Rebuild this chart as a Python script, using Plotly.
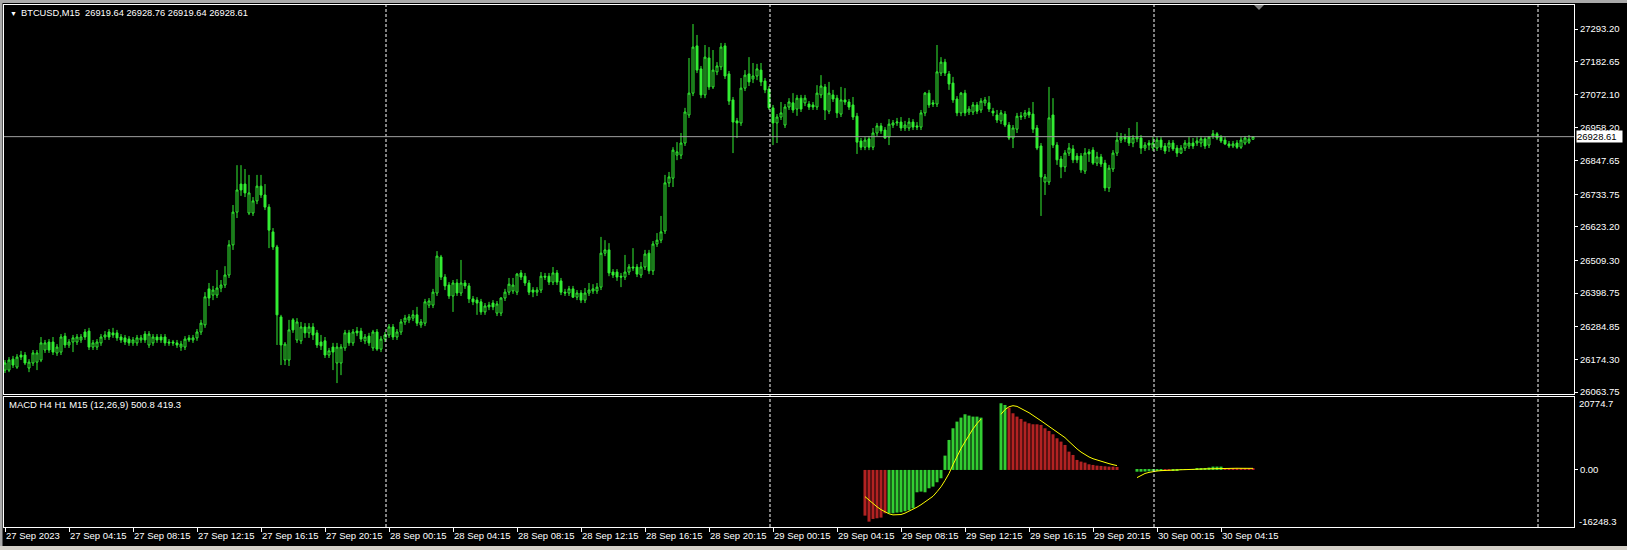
import plotly.graph_objects as go

# ---------------------------------------------------------------
# BTCUSD M15 with MACD sub-window (MT4 style, green on black)
# ---------------------------------------------------------------

symbol_header = "BTCUSD,M15\u00a0\u00a026919.64 26928.76 26919.64 26928.61"
macd_header = "MACD H4 H1 M15 (12,26,9) 500.8 419.3"

time_labels = [
    "27 Sep 2023", "27 Sep 04:15", "27 Sep 08:15", "27 Sep 12:15", "27 Sep 16:15",
    "27 Sep 20:15", "28 Sep 00:15", "28 Sep 04:15", "28 Sep 08:15", "28 Sep 12:15",
    "28 Sep 16:15", "28 Sep 20:15", "29 Sep 00:15", "29 Sep 04:15", "29 Sep 08:15",
    "29 Sep 12:15", "29 Sep 16:15", "29 Sep 20:15", "30 Sep 00:15", "30 Sep 04:15",
]

price_ticks = [27293.20, 27182.65, 27072.10, 26958.20, 26847.65, 26733.75,
               26623.20, 26509.30, 26398.75, 26284.85, 26174.30, 26063.75]
macd_max = 20774.7
macd_min = -16248.3

opens = [
    26138, 26138, 26175, 26148, 26189, 26189, 26145, 26162, 26165, 26172,
    26206, 26233, 26233, 26196, 26199, 26253, 26223, 26233, 26233, 26240,
    26267, 26270, 26216, 26216, 26230, 26250, 26267, 26264, 26264, 26250,
    26247, 26243, 26230, 26230, 26240, 26260, 26223, 26230, 26250, 26250,
    26250, 26233, 26233, 26230, 26216, 26216, 26247, 26240, 26247, 26267,
    26291, 26413, 26392, 26392, 26416, 26426, 26460, 26562, 26673, 26768,
    26768, 26670, 26670, 26711, 26761, 26731, 26690, 26606, 26555, 26318,
    26172, 26172, 26308, 26240, 26237, 26284, 26264, 26284, 26264, 26233,
    26237, 26189, 26216, 26162, 26162, 26213, 26264, 26230, 26270, 26270,
    26237, 26253, 26213, 26267, 26209, 26243, 26257, 26284, 26250, 26267,
    26301, 26308, 26314, 26325, 26291, 26297, 26358, 26358, 26399, 26521,
    26453, 26426, 26389, 26433, 26399, 26433, 26423, 26379, 26375, 26369,
    26335, 26352, 26365, 26331, 26331, 26382, 26402, 26406, 26402, 26467,
    26456, 26433, 26409, 26402, 26409, 26456, 26456, 26436, 26467, 26440,
    26402, 26399, 26413, 26385, 26399, 26375, 26399, 26406, 26406, 26419,
    26534, 26545, 26470, 26470, 26456, 26453, 26470, 26487, 26487, 26460,
    26487, 26534, 26474, 26565, 26578, 26609, 26772, 26788, 26866, 26866,
    26907, 27002, 27076, 27236, 27158, 27070, 27195, 27097, 27148, 27165,
    27236, 27141, 27053, 26982, 26975, 27093, 27141, 27124, 27134, 27154,
    27117, 27090, 27026, 26975, 26995, 26968, 27029, 27043, 27022, 27059,
    27043, 27039, 27036, 27029, 27070, 27097, 27015, 27070, 27059, 27005,
    27053, 27046, 27036, 26998, 26914, 26893, 26921, 26893, 26941, 26965,
    26951, 26927, 26968, 26975, 26978, 26958, 26958, 26978, 26965, 26961,
    27009, 27076, 27043, 27039, 27144, 27181, 27141, 27110, 27056, 27009,
    27076, 27012, 27012, 27036, 27019, 27043, 27043, 27015, 27002, 26982,
    27005, 26968, 26924, 26954, 26995, 26998, 27012, 27005, 26958, 26897,
    26775, 26775, 27002, 26900, 26853, 26826, 26873, 26887, 26863, 26863,
    26812, 26877, 26883, 26839, 26860, 26839, 26755, 26819, 26873, 26917,
    26927, 26927, 26907, 26921, 26924, 26890, 26907, 26890, 26890, 26917,
    26897, 26893, 26907, 26890, 26873, 26890, 26897, 26907, 26907, 26907,
    26921, 26900, 26931, 26938, 26927, 26917, 26904, 26897, 26907, 26893,
    26907, 26910, 26919.64,
]

highs = [
    26172, 26182, 26186, 26192, 26203, 26199, 26175, 26206, 26206, 26250,
    26240, 26243, 26250, 26226, 26260, 26264, 26243, 26257, 26260, 26260,
    26277, 26281, 26240, 26243, 26260, 26270, 26277, 26281, 26274, 26260,
    26257, 26253, 26250, 26257, 26257, 26270, 26270, 26260, 26260, 26260,
    26260, 26243, 26240, 26240, 26237, 26253, 26257, 26257, 26277, 26308,
    26402, 26433, 26423, 26477, 26443, 26490, 26578, 26697, 26832, 26832,
    26819, 26799, 26724, 26799, 26799, 26768, 26700, 26619, 26562, 26325,
    26233, 26308, 26314, 26314, 26301, 26297, 26297, 26297, 26274, 26257,
    26250, 26213, 26230, 26230, 26226, 26274, 26274, 26277, 26284, 26281,
    26260, 26264, 26274, 26277, 26253, 26267, 26294, 26294, 26277, 26311,
    26325, 26328, 26341, 26352, 26311, 26379, 26382, 26413, 26541, 26528,
    26463, 26436, 26443, 26446, 26511, 26443, 26433, 26389, 26385, 26379,
    26365, 26369, 26375, 26372, 26385, 26413, 26450, 26450, 26467, 26477,
    26467, 26443, 26419, 26419, 26470, 26467, 26467, 26487, 26477, 26450,
    26413, 26423, 26423, 26409, 26409, 26416, 26433, 26429, 26433, 26589,
    26578, 26568, 26480, 26480, 26467, 26528, 26497, 26551, 26497, 26504,
    26545, 26545, 26575, 26602, 26660, 26799, 26809, 26893, 26910, 26941,
    27026, 27195, 27310, 27273, 27168, 27239, 27232, 27222, 27181, 27246,
    27246, 27151, 27063, 26992, 27127, 27154, 27198, 27178, 27175, 27178,
    27127, 27100, 27036, 27005, 27046, 27039, 27059, 27076, 27070, 27070,
    27070, 27049, 27046, 27103, 27137, 27107, 27114, 27087, 27070, 27097,
    27093, 27056, 27063, 27009, 26924, 26927, 26931, 26958, 26975, 26975,
    26961, 26988, 26985, 26992, 26995, 26982, 26992, 26988, 26978, 27019,
    27080, 27087, 27053, 27239, 27198, 27192, 27151, 27131, 27066, 27080,
    27087, 27032, 27046, 27046, 27059, 27063, 27066, 27026, 27019, 27019,
    27015, 26978, 26968, 27009, 27012, 27019, 27026, 27046, 26968, 26907,
    26802, 27097, 27059, 26910, 26863, 26883, 26907, 26900, 26873, 26873,
    26890, 26887, 26893, 26877, 26870, 26850, 26833, 26883, 26944, 26941,
    26938, 26958, 26934, 26978, 26934, 26910, 26917, 26927, 26927, 26927,
    26907, 26917, 26917, 26900, 26900, 26917, 26927, 26924, 26927, 26931,
    26927, 26931, 26951, 26944, 26934, 26927, 26914, 26914, 26917, 26927,
    26931, 26934, 26928.76,
]

lows = [
    26128, 26131, 26145, 26142, 26172, 26155, 26131, 26152, 26138, 26165,
    26196, 26196, 26189, 26186, 26189, 26213, 26213, 26199, 26223, 26230,
    26240, 26206, 26206, 26206, 26220, 26240, 26240, 26247, 26237, 26230,
    26223, 26220, 26220, 26220, 26230, 26230, 26213, 26220, 26230, 26230,
    26220, 26220, 26220, 26213, 26203, 26206, 26233, 26230, 26237, 26257,
    26281, 26355, 26375, 26382, 26402, 26416, 26450, 26545, 26653, 26728,
    26724, 26663, 26660, 26700, 26721, 26680, 26551, 26545, 26223, 26155,
    26155, 26152, 26264, 26230, 26226, 26247, 26247, 26240, 26213, 26206,
    26179, 26179, 26138, 26094, 26121, 26203, 26220, 26220, 26253, 26233,
    26226, 26220, 26203, 26203, 26199, 26233, 26247, 26240, 26240, 26257,
    26291, 26297, 26304, 26287, 26281, 26287, 26348, 26348, 26389, 26443,
    26409, 26379, 26335, 26389, 26389, 26413, 26365, 26358, 26325, 26325,
    26325, 26341, 26341, 26321, 26321, 26372, 26392, 26396, 26392, 26443,
    26423, 26392, 26385, 26389, 26399, 26443, 26426, 26426, 26426, 26392,
    26389, 26389, 26382, 26375, 26365, 26365, 26389, 26396, 26396, 26409,
    26524, 26456, 26450, 26440, 26419, 26443, 26460, 26474, 26453, 26450,
    26477, 26463, 26460, 26555, 26568, 26599, 26758, 26758, 26849, 26853,
    26897, 26992, 27066, 27144, 27059, 27059, 27087, 27090, 27137, 27154,
    27124, 27036, 26873, 26924, 26965, 27083, 27100, 27110, 27120, 27100,
    27076, 27019, 26900, 26907, 26985, 26958, 27019, 27009, 26999, 27012,
    27032, 27019, 27019, 27019, 27059, 26985, 27005, 27046, 26992, 26995,
    27036, 27019, 26985, 26870, 26883, 26883, 26883, 26883, 26931, 26938,
    26921, 26900, 26958, 26965, 26948, 26948, 26948, 26951, 26951, 26951,
    26998, 27026, 27029, 27029, 27134, 27134, 27087, 27043, 26998, 26998,
    26998, 27002, 27002, 27005, 27009, 27032, 27012, 26998, 26975, 26971,
    26961, 26917, 26890, 26941, 26985, 26988, 26992, 26941, 26883, 26660,
    26731, 26765, 26890, 26833, 26788, 26809, 26863, 26839, 26839, 26806,
    26802, 26843, 26833, 26829, 26826, 26744, 26741, 26809, 26863, 26907,
    26910, 26897, 26893, 26910, 26870, 26880, 26883, 26880, 26880, 26883,
    26870, 26877, 26880, 26860, 26870, 26880, 26887, 26887, 26897, 26893,
    26887, 26890, 26921, 26917, 26907, 26900, 26890, 26890, 26887, 26887,
    26900, 26904, 26919.64,
]

closes = [
    26162, 26172, 26155, 26182, 26182, 26162, 26165, 26196, 26196, 26230,
    26230, 26206, 26199, 26216, 26250, 26223, 26233, 26247, 26250, 26250,
    26250, 26216, 26230, 26233, 26250, 26257, 26250, 26257, 26247, 26240,
    26233, 26230, 26240, 26247, 26247, 26240, 26260, 26250, 26240, 26240,
    26230, 26230, 26230, 26223, 26226, 26243, 26240, 26247, 26267, 26297,
    26386, 26382, 26409, 26416, 26426, 26460, 26562, 26673, 26748, 26748,
    26738, 26738, 26711, 26761, 26731, 26690, 26612, 26555, 26325, 26223,
    26226, 26274, 26274, 26301, 26284, 26264, 26284, 26257, 26223, 26220,
    26189, 26203, 26199, 26216, 26216, 26264, 26230, 26267, 26264, 26243,
    26250, 26230, 26267, 26209, 26243, 26257, 26284, 26250, 26267, 26301,
    26314, 26318, 26325, 26297, 26301, 26369, 26372, 26402, 26524, 26453,
    26423, 26389, 26433, 26399, 26433, 26423, 26379, 26369, 26365, 26335,
    26355, 26358, 26352, 26362, 26382, 26402, 26429, 26426, 26463, 26453,
    26433, 26402, 26402, 26409, 26456, 26453, 26436, 26467, 26436, 26402,
    26399, 26413, 26385, 26399, 26375, 26399, 26409, 26413, 26419, 26534,
    26545, 26467, 26460, 26453, 26453, 26470, 26487, 26484, 26463, 26487,
    26531, 26474, 26565, 26578, 26606, 26772, 26792, 26883, 26877, 26907,
    27012, 27076, 27232, 27154, 27070, 27198, 27097, 27154, 27168, 27232,
    27134, 27049, 26978, 26975, 27093, 27137, 27114, 27134, 27158, 27114,
    27087, 27026, 26975, 26995, 27009, 27029, 27046, 27019, 27059, 27022,
    27059, 27029, 27029, 27076, 27100, 27019, 27076, 27056, 27009, 27053,
    27046, 27029, 26995, 26910, 26893, 26917, 26893, 26941, 26965, 26948,
    26924, 26971, 26975, 26978, 26958, 26968, 26978, 26961, 26961, 27009,
    27076, 27036, 27039, 27148, 27181, 27144, 27107, 27053, 27009, 27076,
    27009, 27022, 27036, 27015, 27049, 27053, 27022, 27009, 26985, 27009,
    26968, 26924, 26958, 26998, 26998, 27009, 27002, 26954, 26890, 26792,
    26792, 26992, 26900, 26850, 26826, 26873, 26890, 26850, 26850, 26816,
    26873, 26870, 26839, 26860, 26836, 26755, 26822, 26873, 26917, 26927,
    26921, 26907, 26924, 26927, 26890, 26900, 26900, 26907, 26917, 26893,
    26880, 26907, 26887, 26873, 26890, 26907, 26907, 26897, 26914, 26921,
    26897, 26927, 26938, 26924, 26914, 26904, 26897, 26904, 26893, 26917,
    26924, 26920, 26928.61,
]

# MACD buffers start at bar 215 (29 Sep ~05:45); None = empty
macd_start = 215
macd_green = [
    None, None, None, None, None, None,
    -12340, -12340, -12150, -12055, -11770, -11485, -10920, -6360, -6170, -6360,
    -5220, -4750, -3510, -2370,
    4080, 8545, 11870, 13765, 14905, 15855, 15475, 15190, 15190, 14905,
    None, None, None, None,
    18985, 18510,
    None, None, None, None, None, None, None, None, None, None, None, None, None, None,
    None, None, None, None, None, None, None, None, None, None, None, None, None, None,
    None, None, None, None,
    -500, -500, -450, -400, -350, -300, -150,
    None, None,
    -100, -50, 50, 80, 100, 150, 300, 400, 500, 700, 950, 950, 950,
    None, None, None, None, None, None, None, None,
]
macd_red = [
    -13010, -14720, -13955, -13765, -13575, -12340,
    None, None, None, None, None, None, None, None, None, None,
    None, None, None, None, None, None, None, None, None, None,
    None, None, None, None, None, None, None, None, None, None,
    17750, 16140, 15190, 14525, 13765, 13290, 13005, 13000, 12815, 11870,
    11105, 10155, 9020, 8070, 7120, 5220, 4270, 2850, 2375, 2090,
    1615, 1425, 1235, 1140, 1045, 950, 950, 855,
    None, None, None, None, None, None, None, None, None, None, None,
    -200, -250,
    None, None, None, None, None, None, None, None, None, None, None, None, None,
    450, 420, 400, 380, 370, 350, 340, 330,
]
macd_signal = [
    -7600, -8600, -9600, -10500, -11300, -12000, -12500, -12800, -12815, -12700,
    -12300, -11800, -11200, -10600, -9900, -9100, -8300, -7500, -6200, -4800,
    -3000, -1000, 1500, 4000, 6100, 8000, 10000, 11700, 13200, 14500,
    None, None, None, None,
    15855, 17200, 18000, 18300, 18100, 17600, 16900, 16300, 15600, 14800,
    14000, 13200, 12400, 11600, 10800, 10100, 9200, 8100, 7000, 6000,
    5100, 4300, 3700, 3200, 2800, 2450, 2100, 1800, 1500, 1250,
    None, None, None, None,
    -2190, -1500, -1000, -700, -450, -300, -200, -100, -50, 0,
    0, 50, 50, 100, 150, 200, 250, 300, 350, 400,
    430, 450, 470, 480, 480, 480, 470, 470, 460, 450,
]

n_bars = len(closes)
assert len(opens) == len(highs) == len(lows) == n_bars
assert len(macd_green) == len(macd_red) == len(macd_signal)

bars = list(range(n_bars))
macd_x = [macd_start + k for k in range(len(macd_signal))]
time_ticks = [16 * k for k in range(len(time_labels))]
day_separators = [96 * d - 0.75 for d in range(1, 5)]

# ---------------------------------------------------------------
# layout geometry (pixels of the 1627x550 window)
# ---------------------------------------------------------------
W, H = 1627, 550
px_x = lambda p: p / W
px_y = lambda p: 1 - p / H

LEFT, RIGHT = 4, 1574
MAIN_TOP, MAIN_BOTTOM = 5, 394
SUB_TOP, SUB_BOTTOM = 397, 527
BAR_PX = 4.0
FIRST_BAR_PX = 5

x_range = [(LEFT - FIRST_BAR_PX) / BAR_PX, (RIGHT - FIRST_BAR_PX) / BAR_PX]
# price scale: 27293.20 sits at y=29, 26063.75 at y=392
ppx = (price_ticks[0] - price_ticks[-1]) / (392 - 29)
y_range = [price_ticks[-1] - (MAIN_BOTTOM - 392) * ppx,
           price_ticks[0] + (29 - MAIN_TOP) * ppx]

GREEN = "#33ee33"
HIST_GREEN = "#32cd32"
HIST_RED = "#b22222"
FONT = "Liberation Sans"

fig = go.Figure()

fig.add_trace(go.Candlestick(
    x=bars, open=opens, high=highs, low=lows, close=closes,
    increasing=dict(line=dict(color=GREEN, width=1), fillcolor="black"),
    decreasing=dict(line=dict(color=GREEN, width=1), fillcolor=GREEN),
    whiskerwidth=0, hoverinfo="skip", xaxis="x", yaxis="y",
))

fig.add_trace(go.Bar(x=macd_x, y=macd_green, width=0.75, marker=dict(color=HIST_GREEN, line=dict(width=0)),
                     xaxis="x2", yaxis="y2", hoverinfo="skip"))
fig.add_trace(go.Bar(x=macd_x, y=macd_red, width=0.75, marker=dict(color=HIST_RED, line=dict(width=0)),
                     xaxis="x2", yaxis="y2", hoverinfo="skip"))
fig.add_trace(go.Scatter(x=macd_x, y=macd_signal, mode="lines", line=dict(color="#ffff00", width=1),
                         connectgaps=False, xaxis="x2", yaxis="y2", hoverinfo="skip"))

frame = dict(showline=True, mirror=True, linecolor="white", linewidth=1,
             showgrid=False, zeroline=False, automargin=False, tickangle=0)

fig.update_layout(
    width=W, height=H,
    margin=dict(l=0, r=0, t=0, b=0, autoexpand=False),
    paper_bgcolor="black", plot_bgcolor="black",
    showlegend=False, hovermode=False, barmode="overlay",
    font=dict(family=FONT, size=9.5, color="white"),
    xaxis=dict(domain=[px_x(LEFT), px_x(RIGHT)], range=x_range, anchor="y",
               showticklabels=False, ticks="", rangeslider=dict(visible=False), **frame),
    yaxis=dict(domain=[px_y(MAIN_BOTTOM), px_y(MAIN_TOP)], range=y_range, anchor="x", side="right",
               tickvals=price_ticks, ticktext=[f"{v:.2f}" for v in price_ticks],
               ticks="outside", ticklen=3, tickcolor="white", **frame),
    xaxis2=dict(domain=[px_x(LEFT), px_x(RIGHT)], range=x_range, anchor="y2", matches="x",
                tickvals=time_ticks, ticktext=time_labels, ticks="outside", ticklen=4,
                tickcolor="white", ticklabelposition="outside right", **frame),
    yaxis2=dict(domain=[px_y(SUB_BOTTOM), px_y(SUB_TOP)], range=[macd_min, macd_max], anchor="x2",
                side="right", tickvals=[0], ticktext=["0.00"], ticks="outside", ticklen=3,
                tickcolor="white", **frame),
)

shapes = []
# window frame (grey edges of the MT4 chart window)
shapes.append(dict(type="rect", xref="paper", yref="paper", x0=0, x1=1, y0=px_y(3), y1=1,
                   fillcolor="#a9a9a9", line=dict(width=0), layer="above"))
shapes.append(dict(type="rect", xref="paper", yref="paper", x0=0, x1=px_x(2.5), y0=0, y1=1,
                   fillcolor="#a9a9a9", line=dict(width=0), layer="above"))
shapes.append(dict(type="rect", xref="paper", yref="paper", x0=0, x1=1, y0=0, y1=px_y(546),
                   fillcolor="#d4d0c8", line=dict(width=0), layer="above"))
# day separators
for sep in day_separators:
    shapes.append(dict(type="line", xref="x", yref="paper", x0=sep, x1=sep,
                       y0=px_y(SUB_BOTTOM), y1=px_y(MAIN_TOP),
                       line=dict(color="white", width=1, dash="3px,2px")))
# bid line
shapes.append(dict(type="line", xref="paper", yref="y", x0=px_x(LEFT), x1=px_x(RIGHT),
                   y0=closes[-1], y1=closes[-1], line=dict(color="#a0a0a0", width=1)))
# chart shift marker
shapes.append(dict(type="path", xref="paper", yref="paper",
                   path=f"M {px_x(1254)},{px_y(5)} L {px_x(1264)},{px_y(5)} L {px_x(1259)},{px_y(10)} Z",
                   fillcolor="#808080", line=dict(width=0)))
fig.update_layout(shapes=shapes)

annotations = [
    dict(text="\u25bc", x=px_x(8), y=px_y(13), xref="paper", yref="paper", xanchor="left",
         yanchor="middle", showarrow=False, font=dict(size=7, color="white")),
    dict(text=symbol_header, x=px_x(19), y=px_y(13), xref="paper", yref="paper", xanchor="left",
         yanchor="middle", showarrow=False, font=dict(size=9.3)),
    dict(text=macd_header, x=px_x(7), y=px_y(404), xref="paper", yref="paper", xanchor="left",
         yanchor="middle", showarrow=False),
    dict(text=f"{macd_max:.1f}", x=px_x(1577), y=px_y(403), xref="paper", yref="paper",
         xanchor="left", yanchor="middle", showarrow=False),
    dict(text=f"{macd_min:.1f}", x=px_x(1577), y=px_y(521), xref="paper", yref="paper",
         xanchor="left", yanchor="middle", showarrow=False),
    dict(text=f"{closes[-1]:.2f}", x=px_x(RIGHT + 2), y=closes[-1], xref="paper", yref="y",
         xanchor="left", yanchor="middle", showarrow=False, bgcolor="white", width=45,
         align="left", font=dict(color="black"), borderpad=0),
]
fig.update_layout(annotations=annotations)

# pin the chart to the window corner (no body margin, nothing adding page height)
pin_script = (
    "document.body.style.margin = '0';"
    "var gd = document.getElementById('{plot_id}');"
    "gd.style.position = 'fixed'; gd.style.top = '0px'; gd.style.left = '0px';"
)
fig.write_html("out.html", post_script=pin_script, config={"displayModeBar": False})
